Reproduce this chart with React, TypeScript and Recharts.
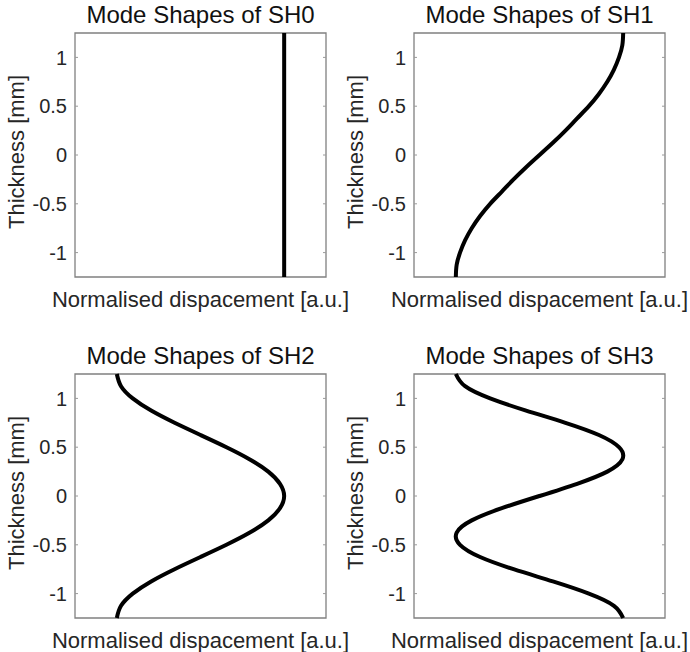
import React from 'react';
import { LineChart, Line, XAxis, YAxis, ReferenceArea, Label } from 'recharts';

// Through-thickness coordinate [mm]
const thickness = [
  -1.25, -1.125, -1.0, -0.875, -0.75, -0.625, -0.5, -0.375, -0.25, -0.125, 0,
  0.125, 0.25, 0.375, 0.5, 0.625, 0.75, 0.875, 1.0, 1.125, 1.25,
];

// Normalised displacement of each SH mode along the thickness
const sh0 = [1, 1, 1, 1, 1, 1, 1, 1, 1, 1, 1, 1, 1, 1, 1, 1, 1, 1, 1, 1, 1];
const sh1 = [
  -1.0, -0.99, -0.95, -0.89, -0.81, -0.71, -0.59, -0.45, -0.31, -0.16, 0,
  0.16, 0.31, 0.45, 0.59, 0.71, 0.81, 0.89, 0.95, 0.99, 1.0,
];
const sh2 = [
  -1.0, -0.95, -0.81, -0.59, -0.31, 0, 0.31, 0.59, 0.81, 0.95, 1.0,
  0.95, 0.81, 0.59, 0.31, 0, -0.31, -0.59, -0.81, -0.95, -1.0,
];
const sh3 = [
  1.0, 0.89, 0.59, 0.16, -0.31, -0.71, -0.95, -0.99, -0.81, -0.45, 0,
  0.45, 0.81, 0.99, 0.95, 0.71, 0.31, -0.16, -0.59, -0.89, -1.0,
];

const yTicks = [-1, -0.5, 0, 0.5, 1];
const panelTitles = ['Mode Shapes of SH0', 'Mode Shapes of SH1', 'Mode Shapes of SH2', 'Mode Shapes of SH3'];
const seriesKeys = ['sh0', 'sh1', 'sh2', 'sh3'];

const rows = thickness.map((z, i) => ({ z, sh0: sh0[i], sh1: sh1[i], sh2: sh2[i], sh3: sh3[i] }));

const FONT = '"Liberation Sans", Arial, Helvetica, sans-serif';
const W = 351;
const H = 317;
const PLOT_LEFT = 75;
const PLOT_TOP = 33;
const PLOT_W = 251;
const PLOT_H = 244;
const TICK_GAP = 8;

function YTick(props: any) {
  const { x, y, payload } = props;
  const edge = x + TICK_GAP;
  return (
    <g>
      <line x1={edge} x2={edge + 3} y1={y} y2={y} stroke="#9a9a9a" strokeWidth={1} />
      <line x1={edge + PLOT_W - 3} x2={edge + PLOT_W} y1={y} y2={y} stroke="#9a9a9a" strokeWidth={1} />
      <text x={x} y={y} dy="0.36em" textAnchor="end" fontFamily={FONT} fontSize={20} fill="#262626">
        {payload.value}
      </text>
    </g>
  );
}

function YLabel(props: any) {
  const vb = props.viewBox || {};
  const cx = vb.x + 24;
  const cy = vb.y + vb.height / 2 - 3;
  return (
    <text
      x={cx}
      y={cy}
      transform={`rotate(-90, ${cx}, ${cy})`}
      textAnchor="middle"
      fontFamily={FONT}
      fontSize={22}
      fill="#262626"
    >
      Thickness [mm]
    </text>
  );
}

function XLabel(props: any) {
  const vb = props.viewBox || {};
  return (
    <text
      x={vb.x + vb.width / 2}
      y={vb.y + 30}
      textAnchor="middle"
      fontFamily={FONT}
      fontSize={22}
      fill="#262626"
    >
      Normalised dispacement [a.u.]
    </text>
  );
}

function ModePanel({ title, dataKey, left, top }: { title: string; dataKey: string; left: number; top: number }) {
  return (
    <div style={{ position: 'absolute', left, top, width: W, height: H }}>
      <div
        style={{
          position: 'absolute',
          left: PLOT_LEFT - 20,
          width: PLOT_W + 40,
          top: 3,
          textAlign: 'center',
          fontFamily: FONT,
          fontSize: 24,
          lineHeight: '24px',
          color: '#111',
          whiteSpace: 'nowrap',
        }}
      >
        {title}
      </div>
      <LineChart
        width={W}
        height={H}
        layout="vertical"
        data={rows}
        margin={{ top: PLOT_TOP, right: W - PLOT_LEFT - PLOT_W, bottom: 0, left: 0 }}
      >
        <XAxis
          type="number"
          domain={[-1.5, 1.5]}
          ticks={[]}
          tick={false}
          tickLine={false}
          axisLine={false}
          height={H - PLOT_TOP - PLOT_H}
        >
          <Label content={<XLabel />} />
        </XAxis>
        <YAxis
          type="number"
          dataKey="z"
          domain={[-1.25, 1.25]}
          reversed
          ticks={yTicks}
          width={PLOT_LEFT}
          axisLine={false}
          tickLine={false}
          tickSize={0}
          tickMargin={TICK_GAP}
          tick={<YTick />}
        >
          <Label content={<YLabel />} />
        </YAxis>
        <ReferenceArea
          x1={-1.5}
          x2={1.5}
          y1={-1.25}
          y2={1.25}
          fill="none"
          fillOpacity={0}
          stroke="#808080"
          strokeWidth={1.3}
        />
        <Line
          dataKey={dataKey}
          type="natural"
          stroke="#000"
          strokeWidth={4}
          dot={false}
          activeDot={false}
          isAnimationActive={false}
        />
      </LineChart>
    </div>
  );
}

export default function App() {
  const origins = [
    { left: 0, top: 0 },
    { left: 339, top: 0 },
    { left: 0, top: 340.5 },
    { left: 339, top: 340.5 },
  ];
  return (
    <div style={{ position: 'absolute', left: 0, top: 0, width: 690, height: 652, background: '#fff' }}>
      {origins.map((o, i) => (
        <ModePanel key={seriesKeys[i]} title={panelTitles[i]} dataKey={seriesKeys[i]} left={o.left} top={o.top} />
      ))}
    </div>
  );
}
